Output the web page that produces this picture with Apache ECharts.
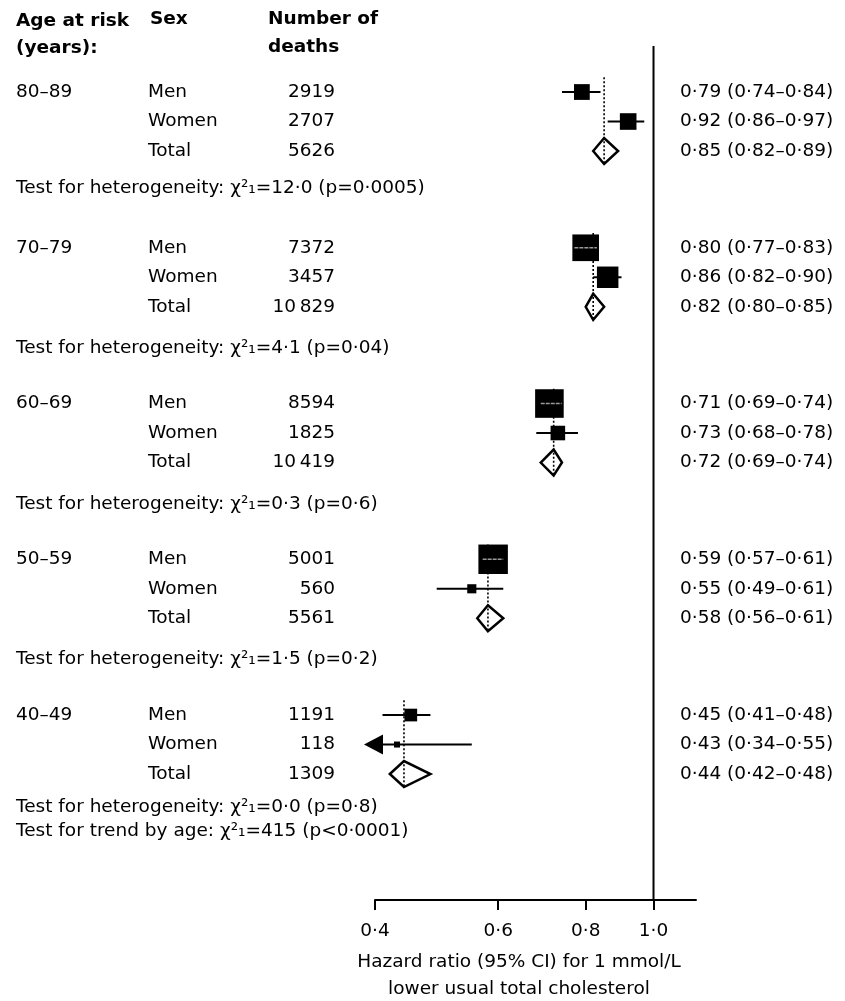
<!DOCTYPE html>
<html>
<head>
<meta charset="utf-8">
<script src="https://cdn.jsdelivr.net/npm/echarts@6/dist/echarts.min.js"></script>
<style>
  html, body { margin: 0; padding: 0; background: #fff; }
  #chart { width: 845px; height: 1001px; }
</style>
</head>
<body>
<div id="chart"></div>
<script>
// Cholesterol-lowering hazard ratios by age at risk and sex
const ageGroups = ['80–89', '70–79', '60–69', '50–59', '40–49'];
const sexLabels = ['Men', 'Women', 'Total'];
const deaths = [
  [2919, 2707, 5626],
  [7372, 3457, 10829],
  [8594, 1825, 10419],
  [5001, 560, 5561],
  [1191, 118, 1309]
];
const hazardRatio = [
  [0.79, 0.92, 0.85],
  [0.80, 0.86, 0.82],
  [0.71, 0.73, 0.72],
  [0.59, 0.55, 0.58],
  [0.45, 0.43, 0.44]
];
const ciLower = [
  [0.74, 0.86, 0.82],
  [0.77, 0.82, 0.80],
  [0.69, 0.68, 0.69],
  [0.57, 0.49, 0.56],
  [0.41, 0.34, 0.42]
];
const ciUpper = [
  [0.84, 0.97, 0.89],
  [0.83, 0.90, 0.85],
  [0.74, 0.78, 0.74],
  [0.61, 0.61, 0.61],
  [0.48, 0.55, 0.48]
];
const heterogeneityTests = ['12·0 (p=0·0005)', '4·1 (p=0·04)', '0·3 (p=0·6)', '1·5 (p=0·2)', '0·0 (p=0·8)'];
const trendTest = '415 (p<0·0001)';
const xTickValues = [0.4, 0.6, 0.8, 1.0];

// layout (row units on the hidden y axis)
const FONT_FAMILY = '"DejaVu Sans", "Noto Sans", sans-serif';
const FS = 18.5;
const FONT = FS + 'px ' + FONT_FAMILY;
const GROUP_STEP = 5.28;
const HET_OFFSETS = [3.25, 3.42, 3.42, 3.39, 3.14];
const TREND_OFFSET = 3.95;
const X_MIN = 0.4, X_MAX = 1.15;
const Y_MIN = -1.56, Y_MAX = 27.39;
const INK = '#000';

const rowY = (g, r) => g * GROUP_STEP + r;
const dotNum = v => v.toFixed(2).replace('.', '·');
const fmtDeaths = n => {
  const s = String(n);
  return s.length > 4 ? s.slice(0, s.length - 3) + '\u2009' + s.slice(-3) : s;
};

// per-sex estimates (squares) and per-group totals (diamonds)
const sexRows = [], totalRows = [], textRows = [], groupLines = [];
ageGroups.forEach((age, g) => {
  sexLabels.forEach((sex, r) => {
    const item = [hazardRatio[g][r], rowY(g, r), ciLower[g][r], ciUpper[g][r]];
    if (r < 2) sexRows.push(item); else totalRows.push(item);
    textRows.push({
      value: [1, rowY(g, r)],
      age: r === 0 ? age : '',
      sex: sex,
      deaths: fmtDeaths(deaths[g][r]),
      est: dotNum(hazardRatio[g][r]) + ' (' + dotNum(ciLower[g][r]) + '–' + dotNum(ciUpper[g][r]) + ')'
    });
  });
  groupLines.push([hazardRatio[g][2], rowY(g, 0) - 0.5, rowY(g, 2) + 0.45]);
});
const testRows = heterogeneityTests.map((t, g) => ({
  value: [1, rowY(g, 0) + HET_OFFSETS[g]],
  text: 'Test for heterogeneity: χ²₁=' + t
}));
testRows.push({
  value: [1, rowY(4, 0) + TREND_OFFSET],
  text: 'Test for trend by age: χ²₁=' + trendTest
});

const chart = echarts.init(document.getElementById('chart'), null, { renderer: 'canvas' });

const textStyle = (text, x, y, align, bold) => ({
  type: 'text',
  style: {
    text: text, x: x, y: y, align: align, verticalAlign: 'middle',
    font: (bold ? 'bold ' : '') + FONT, fill: INK
  }
});

chart.setOption({
  animation: false,
  backgroundColor: '#fff',
  grid: { left: 375, right: 149, top: 46, bottom: 101, containLabel: false },
  xAxis: {
    type: 'log',
    logBase: 10,
    min: X_MIN,
    max: X_MAX,
    splitLine: { show: false },
    axisLine: { show: true, onZero: false, lineStyle: { color: INK, width: 2 } },
    axisTick: { show: true, length: 10, lineStyle: { color: INK, width: 2 }, customValues: xTickValues },
    axisLabel: {
      customValues: xTickValues,
      margin: 22,
      color: INK,
      fontFamily: FONT_FAMILY,
      fontSize: FS,
      formatter: v => Number(v).toFixed(1).replace('.', '·')
    }
  },
  yAxis: { type: 'value', inverse: true, min: Y_MIN, max: Y_MAX, show: false },
  graphic: [
    { type: 'text', x: 16, y: 21, style: { text: 'Age at risk', font: 'bold ' + FONT, fill: INK, verticalAlign: 'middle' } },
    { type: 'text', x: 16, y: 48, style: { text: '(years):', font: 'bold ' + FONT, fill: INK, verticalAlign: 'middle' } },
    { type: 'text', x: 150, y: 19, style: { text: 'Sex', font: 'bold ' + FONT, fill: INK, verticalAlign: 'middle' } },
    { type: 'text', x: 268, y: 19, style: { text: 'Number of', font: 'bold ' + FONT, fill: INK, verticalAlign: 'middle' } },
    { type: 'text', x: 268, y: 47, style: { text: 'deaths', font: 'bold ' + FONT, fill: INK, verticalAlign: 'middle' } },
    { type: 'text', x: 519, y: 962, style: { text: 'Hazard ratio (95% CI) for 1 mmol/L', font: FONT, fill: INK, align: 'center', verticalAlign: 'middle' } },
    { type: 'text', x: 519, y: 989, style: { text: 'lower usual total cholesterol', font: FONT, fill: INK, align: 'center', verticalAlign: 'middle' } }
  ],
  series: [
    {
      // line of no effect
      type: 'custom',
      data: [[1, Y_MIN, Y_MAX]],
      renderItem: (params, api) => {
        const a = api.coord([1, api.value(1)]);
        const b = api.coord([1, api.value(2)]);
        return { type: 'line', shape: { x1: a[0], y1: a[1], x2: b[0], y2: b[1] }, style: { stroke: INK, lineWidth: 2 } };
      },
      z: 1
    },
    {
      // group totals as diamonds
      type: 'custom',
      data: totalRows,
      renderItem: (params, api) => {
        const c = api.coord([api.value(0), api.value(1)]);
        const l = api.coord([api.value(2), api.value(1)]);
        const r = api.coord([api.value(3), api.value(1)]);
        const h = 13;
        return {
          type: 'polygon',
          shape: { points: [[l[0], c[1]], [c[0], c[1] - h], [r[0], c[1]], [c[0], c[1] + h]] },
          style: { fill: '#fff', stroke: INK, lineWidth: 2.5, lineJoin: 'miter' }
        };
      },
      z: 2
    },
    {
      // dotted line through each group's overall estimate
      type: 'custom',
      data: groupLines,
      renderItem: (params, api) => {
        const a = api.coord([api.value(0), api.value(1)]);
        const b = api.coord([api.value(0), api.value(2)]);
        return {
          type: 'line',
          shape: { x1: a[0], y1: a[1], x2: b[0], y2: b[1] },
          style: { stroke: INK, lineWidth: 1.6, lineDash: [2, 2] }
        };
      },
      z: 3
    },
    {
      // sex-specific estimates: CI line and square sized by 1/SE
      type: 'custom',
      data: sexRows,
      clip: false,
      renderItem: (params, api) => {
        const hr = api.value(0), y = api.value(1), lo = api.value(2), hi = api.value(3);
        const c = api.coord([hr, y]);
        const r = api.coord([hi, y]);
        const children = [];
        const side = Math.max(6, 2.0 / Math.log(hi / lo));
        if (lo < X_MIN) {
          const tipX = api.coord([X_MIN, y])[0] - 11;
          const baseX = tipX + 19;
          children.push({ type: 'line', shape: { x1: baseX, y1: c[1], x2: r[0], y2: c[1] }, style: { stroke: INK, lineWidth: 2 } });
          children.push({ type: 'polygon', shape: { points: [[tipX, c[1]], [baseX, c[1] - 10], [baseX, c[1] + 10]] }, style: { fill: INK } });
        } else {
          const l = api.coord([lo, y]);
          children.push({ type: 'line', shape: { x1: l[0], y1: c[1], x2: r[0], y2: c[1] }, style: { stroke: INK, lineWidth: 2 } });
        }
        children.push({ type: 'rect', shape: { x: c[0] - side / 2, y: c[1] - side / 2, width: side, height: side }, style: { fill: INK } });
        // CI narrower than the square: show it as a pale line inside
        if (lo >= X_MIN) {
          const l = api.coord([lo, y]);
          if (l[0] >= c[0] - side / 2 - 1 && r[0] <= c[0] + side / 2 + 2) {
            children.push({ type: 'line', shape: { x1: Math.max(l[0], c[0] - side / 2 + 2), y1: c[1], x2: Math.min(r[0], c[0] + side / 2 - 2), y2: c[1] }, style: { stroke: '#9a9a9a', lineWidth: 1.5, lineDash: [4, 1] } });
          }
        }
        return { type: 'group', children: children };
      },
      z: 4
    },
    {
      // row text: age band, sex, deaths, estimate
      type: 'custom',
      data: textRows,
      clip: false,
      silent: true,
      renderItem: (params, api) => {
        const d = textRows[params.dataIndex];
        const y = api.coord([1, api.value(1)])[1];
        const children = [];
        if (d.age) children.push(textStyle(d.age, 16, y, 'left'));
        children.push(textStyle(d.sex, 148, y, 'left'));
        children.push(textStyle(d.deaths, 335, y, 'right'));
        children.push(textStyle(d.est, 680, y, 'left'));
        return { type: 'group', children: children };
      },
      z: 5
    },
    {
      // heterogeneity and trend tests
      type: 'custom',
      data: testRows,
      clip: false,
      silent: true,
      renderItem: (params, api) => {
        const y = api.coord([1, api.value(1)])[1];
        return textStyle(testRows[params.dataIndex].text, 16, y, 'left');
      },
      z: 5
    }
  ]
});
</script>
</body>
</html>
